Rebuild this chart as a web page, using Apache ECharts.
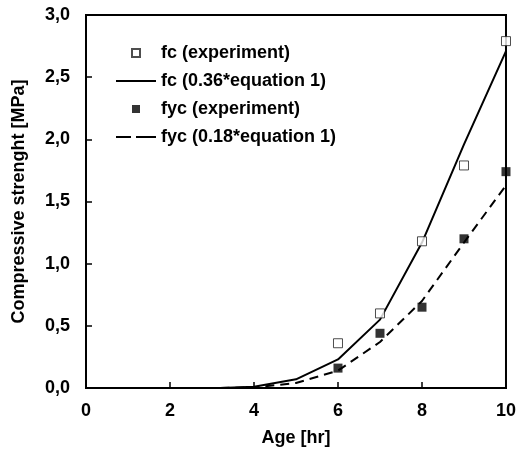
<!DOCTYPE html>
<html>
<head>
<meta charset="utf-8">
<script src="https://cdn.jsdelivr.net/npm/echarts@6/dist/echarts.min.js"></script>
<style>
  html, body { margin: 0; padding: 0; background: #fff; }
  #chart { width: 519px; height: 457px; }
</style>
</head>
<body>
<div id="chart"></div>
<script>
// measured points
const ageExp = [6, 7, 8, 9, 10]
const fcExp = [0.36, 0.6, 1.18, 1.79, 2.79]
const fycExp = [0.16, 0.44, 0.65, 1.2, 1.74]

// model curves
const ageModel = [3.2, 4, 5, 6, 7, 8, 9, 10]
const fcModel = [0, 0.01, 0.07, 0.23, 0.55, 1.17, 1.96, 2.71]
const fycModel = [0, 0.005, 0.04, 0.14, 0.37, 0.7, 1.17, 1.63]

const seriesNames = [
  'fc (experiment)',
  'fc (0.36*equation 1)',
  'fyc (experiment)',
  'fyc (0.18*equation 1)'
]

const pairs = (xs, ys) => xs.map((x, i) => [x, ys[i]])

const font = 'Liberation Sans, Arial, sans-serif'
const textStyle = { fontFamily: font, fontWeight: 'bold', fontSize: 18, color: '#000' }

// legend icons (keepAspect centres them in the 40x8 box)
const squareIcon = 'path://M0,0h10v10h-10z'
const solidIcon = 'path://M0,0h40v2h-40z'
const dashIcon = 'path://M0,0h15v2h-15zM20,0h20v2h-20z'

const chart = echarts.init(document.getElementById('chart'))
chart.setOption({
  animation: false,
  backgroundColor: '#fff',
  textStyle: textStyle,
  grid: {
    left: 86,
    top: 15,
    right: 11,
    bottom: 69,
    show: true,
    borderColor: '#000',
    borderWidth: 2
  },
  legend: {
    orient: 'vertical',
    left: 116,
    top: 44,
    padding: 0,
    itemWidth: 40,
    itemHeight: 8,
    itemGap: 10,
    symbolKeepAspect: true,
    textStyle: textStyle,
    data: [
      { name: seriesNames[0], icon: squareIcon },
      { name: seriesNames[1], icon: solidIcon },
      { name: seriesNames[2], icon: squareIcon },
      { name: seriesNames[3], icon: dashIcon }
    ]
  },
  xAxis: {
    type: 'value',
    min: 0,
    max: 10,
    interval: 2,
    name: 'Age [hr]',
    nameLocation: 'middle',
    nameGap: 41,
    nameTextStyle: textStyle,
    axisLine: { lineStyle: { color: '#000', width: 2 } },
    axisTick: { inside: true, length: 6, lineStyle: { color: '#000', width: 1.5 } },
    axisLabel: Object.assign({ margin: 14 }, textStyle),
    splitLine: { show: false }
  },
  yAxis: {
    type: 'value',
    min: 0,
    max: 3,
    interval: 0.5,
    name: 'Compressive strenght [MPa]',
    nameLocation: 'middle',
    nameGap: 58,
    nameTextStyle: textStyle,
    axisLine: { lineStyle: { color: '#000', width: 2 } },
    axisTick: { inside: true, length: 6, lineStyle: { color: '#000', width: 1.5 } },
    axisLabel: Object.assign({
      margin: 16,
      formatter: v => v.toFixed(1).replace('.', ',')
    }, textStyle),
    splitLine: { show: false }
  },
  series: [
    {
      name: seriesNames[0],
      type: 'scatter',
      symbol: 'rect',
      symbolSize: 9,
      itemStyle: { color: '#fff', borderColor: '#222', borderWidth: 1 },
      data: pairs(ageExp, fcExp),
      z: 3
    },
    {
      name: seriesNames[1],
      type: 'line',
      symbol: 'none',
      lineStyle: { color: '#000', width: 2, type: 'solid' },
      itemStyle: { color: '#000' },
      data: pairs(ageModel, fcModel),
      z: 2
    },
    {
      name: seriesNames[2],
      type: 'scatter',
      symbol: 'rect',
      symbolSize: 9,
      itemStyle: { color: '#000' },
      data: pairs(ageExp, fycExp),
      z: 3
    },
    {
      name: seriesNames[3],
      type: 'line',
      symbol: 'none',
      lineStyle: { color: '#000', width: 2, type: [9, 6] },
      itemStyle: { color: '#000' },
      data: pairs(ageModel, fycModel),
      z: 2
    }
  ]
})
</script>
</body>
</html>
